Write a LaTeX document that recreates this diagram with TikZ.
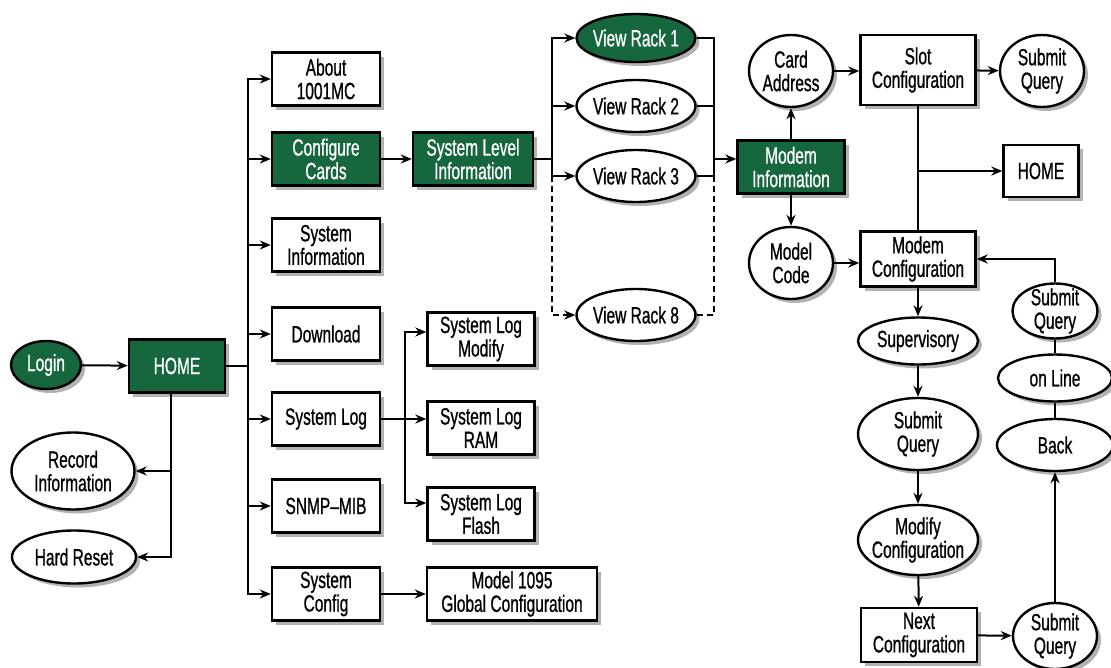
\documentclass[tikz,border=0pt]{standalone}
\usepackage{fontspec}
\setmainfont{Liberation Sans}[FakeStretch=0.66, FakeBold=0.8]
\usepackage{xcolor}
\usetikzlibrary{shapes.geometric, arrows.meta, shadows}
\definecolor{menugreen}{RGB}{22,102,62}

\begin{document}
\begin{tikzpicture}[x=1pt, y=-1pt]
\tikzstyle{box} = [rectangle, minimum height=53pt, inner sep=0pt, align=center, draw=black, line width=2.4pt, fill=white, font=\fontsize{23.5}{23.5}\selectfont, drop shadow={shadow xshift=4pt, shadow yshift=-4pt, fill=black!30, opacity=1}]
\tikzstyle{gbox} = [box, fill=menugreen, text=white]
\tikzstyle{oval} = [ellipse, inner sep=-14pt, align=center, draw=black, line width=2.4pt, fill=white, font=\fontsize{23.5}{23.5}\selectfont, drop shadow={shadow xshift=4pt, shadow yshift=-4pt, fill=black!30, opacity=1}]
\tikzstyle{goval} = [oval, fill=menugreen, text=white]
\tikzstyle{line} = [line width=2pt]
\tikzstyle{arrow} = [line, -{Stealth[length=11pt,width=9pt]}]
\useasboundingbox (0,0) rectangle (1111,667);

\node (login) [goval, minimum width=70, minimum height=48] at (46,365) {Login};
\node (home) [gbox, minimum width=96] at (177,366) {HOME};
\node (rec) [oval, minimum width=123, minimum height=77] at (73,471) {Record\\Information};
\node (reset) [oval, minimum width=124, minimum height=53] at (74,557) {Hard Reset};

\node (about) [box, minimum width=108] at (326,79) {About\\1001MC};
\node (cards) [gbox, minimum width=108] at (326,159) {Configure\\Cards};
\node (sysinfo) [box, minimum width=108] at (326,245) {System\\Information};
\node (download) [box, minimum width=108] at (326,334) {Download};
\node (syslog) [box, minimum width=108] at (326,419) {System Log};
\node (snmp) [box, minimum width=108] at (326,506) {SNMP--MIB};
\node (syscfg) [box, minimum width=108] at (326,594) {System\\Config};

\node (sli) [gbox, minimum width=120] at (473,159) {System Level\\Information};
\node (logmod) [box, minimum width=107] at (481,339) {System Log\\Modify};
\node (logram) [box, minimum width=107] at (481,428) {System Log\\RAM};
\node (logflash) [box, minimum width=107] at (481,514) {System Log\\Flash};
\node (global) [box, minimum width=170] at (512,594) {Model 1095\\Global Configuration};

\node (r1) [goval, minimum width=119, minimum height=48] at (636,38) {View Rack 1};
\node (r2) [oval, minimum width=119, minimum height=52] at (636,106) {View Rack 2};
\node (r3) [oval, minimum width=119, minimum height=52] at (636,176) {View Rack 3};
\node (r8) [oval, minimum width=119, minimum height=52] at (636,315) {View Rack 8};

\node (minfo) [gbox, minimum width=107] at (791,167) {Modem\\Information};
\node (card) [oval, minimum width=84, minimum height=72] at (791,71) {Card\\Address};
\node (mcode) [oval, minimum width=84, minimum height=72] at (791,263) {Model\\Code};

\node (slot) [box, minimum width=115, minimum height=70] at (918,70) {Slot\\Configuration};
\node (sq1) [oval, minimum width=84, minimum height=72] at (1042,71) {Submit\\Query};
\node (home2) [box, minimum width=75, minimum height=52] at (1041,171) {HOME};
\node (mconf) [box, minimum width=115, minimum height=55] at (918,259) {Modem\\Configuration};

\node (sup) [oval, minimum width=120, minimum height=47] at (918,341) {Supervisory};
\node (sq3) [oval, minimum width=120, minimum height=72] at (918,434) {Submit\\Query};
\node (modc) [oval, minimum width=120, minimum height=70] at (918,540) {Modify\\Configuration};
\node (next) [box, minimum width=116, minimum height=54] at (919,635) {Next\\Configuration};

\node (sq2) [oval, minimum width=85, minimum height=55] at (1055,311) {Submit\\Query};
\node (online) [oval, minimum width=114, minimum height=47] at (1055,378) {on Line};
\node (back) [oval, minimum width=116, minimum height=52] at (1055,445) {Back};
\node (sqb) [oval, minimum width=84, minimum height=66] at (1055,636) {Submit\\Query};

% home menu
\draw [arrow] (login) -- (home);
\coordinate (hometrunk) at (248,366);
\draw [line] (home.east) -- (hometrunk);
\foreach \n in {about,cards,sysinfo,download,syslog,snmp,syscfg}
  \draw [arrow] (hometrunk) |- (\n.west);
\coordinate (homedrop) at (171,0);
\draw [arrow] (home.south -| homedrop) |- (rec.east);
\draw [arrow] (home.south -| homedrop) |- (reset.east);

% system log and config
\coordinate (logtrunk) at (405,419);
\draw [line] (syslog.east) -- (logtrunk);
\draw [arrow] (logtrunk) |- ([yshift=7pt]logmod.west);
\draw [arrow] (logtrunk) -- (logtrunk -| logram.west);
\draw [arrow] (logtrunk) |- ([yshift=11pt]logflash.west);
\draw [arrow] (syscfg) -- (global);

% racks
\draw [arrow] (cards) -- (sli);
\coordinate (rackin) at (552,159);
\coordinate (rackout) at (714,159);
\draw [line] (sli.east) -- (rackin);
\foreach \r in {r1,r2,r3} {
  \draw [arrow] (rackin) |- (\r.west);
  \draw [line] (\r.east) -| (rackout);
}
\draw [arrow, dash pattern=on 6pt off 4pt] (rackin |- r3.west) |- (r8.west);
\draw [line, dash pattern=on 6pt off 4pt] (r8.east) -| (rackout |- r3.east);
\draw [arrow] (rackout) -- (rackout -| minfo.west);

% modem
\draw [arrow] (minfo) -- (card);
\draw [arrow] (minfo) -- (mcode);
\draw [arrow] (card.east) -- (card.east -| slot.west);
\draw [arrow] (slot) -- (sq1);
\draw [arrow] (mcode.east) -- (mcode.east -| mconf.west);
\draw [line] (slot) -- (mconf);
\draw [arrow] (slot.south |- home2.west) -- (home2.west);
\draw [arrow] (sq2.north) |- (mconf.east);
\draw [line] (sq2) -- (online) -- (back);
\draw [arrow] (sqb) -- (back);
\draw [arrow] (mconf) -- (sup);
\draw [arrow] (sup) -- (sq3);
\draw [arrow] (sq3) -- (modc);
\draw [arrow] (modc) -- (next);
\draw [arrow] (next) -- (sqb);
\end{tikzpicture}
\end{document}
